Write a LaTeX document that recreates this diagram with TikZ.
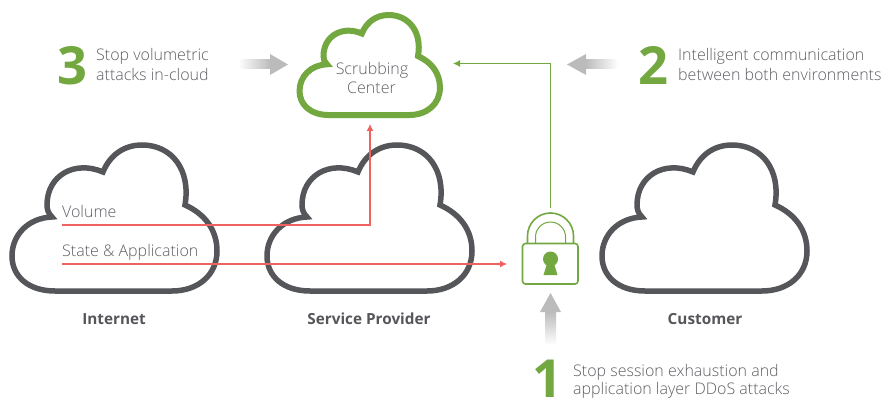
\documentclass[tikz,border=0pt]{standalone}
\usepackage{fontspec}
\setmainfont{Open Sans}
\newfontfamily\lightfont{Open Sans Light}
\definecolor{dgreen}{HTML}{72A83F}
\definecolor{dgrey}{HTML}{55565A}
\definecolor{txtgrey}{HTML}{5F6064}
\definecolor{dred}{HTML}{F0625F}
\definecolor{arrgrey}{HTML}{BBBBBB}
\tikzset{
  cloudline/.style={line width=5.5pt,draw=dgrey,line join=miter},
  scrubline/.style={line width=6pt,draw=dgreen,line join=miter},
  lab/.style={font=\lightfont\fontsize{16}{20}\selectfont,text=txtgrey,inner sep=0pt,align=left},
  title/.style={font=\bfseries\fontsize{15.3}{18}\selectfont,text=dgrey,inner sep=0pt},
  digit/.style={font=\bfseries\fontsize{52.5}{53}\selectfont,text=dgreen,inner sep=0pt},
  redflow/.style={draw=dred,line width=1.1pt,-{Latex[length=7pt,width=7pt]}},
  greenflow/.style={draw=dgreen,line width=1.3pt,-{Latex[length=7pt,width=7pt]}},
  lockline/.style={draw=dgreen,line width=1.6pt},
}
\usetikzlibrary{arrows.meta}
\newcommand{\cloudpath}{
  (52,217) .. controls (28,218) and (12,235) .. (12,256)
  .. controls (12,276) and (28,291) .. (55,291)
  -- (172,291) .. controls (198,291) and (217,275) .. (217,251)
  .. controls (217,230) and (205,214) .. (185,205)
  .. controls (191,170) and (172,145) .. (142,145)
  .. controls (124,145) and (110,155) .. (103,172)
  .. controls (75,160) and (47,175) .. (47,205)
  .. controls (47,209) and (48,213) .. (52,217) -- cycle
}
\begin{document}
\begin{tikzpicture}[x=1pt,y=-1pt]
\useasboundingbox (0,0) rectangle (882,398);
\fill[white] (0,0) rectangle (882,398);
% clouds
\draw[cloudline] \cloudpath;
\begin{scope}[xshift=255pt]\draw[cloudline] \cloudpath;\end{scope}
\begin{scope}[xshift=590pt]\draw[cloudline] \cloudpath;\end{scope}
\begin{scope}[shift={(291.3,-84.3)},scale=0.685]\draw[scrubline] \cloudpath;\end{scope}
% labels
\node[lab,anchor=base west] (vol) at (62,217) {Volume};
\node[lab,anchor=base west] (state) at (62,256) {State \& Application};
\node[lab,anchor=base,align=center] (sc1) at (372,75) {Scrubbing};
\node[lab,anchor=base] (sc2) at (371.5,94) {Center};
\node[title,anchor=base] (inet) at (114,324.5) {Internet};
\node[title,anchor=base] (sp) at (369,324.5) {Service Provider};
\node[title,anchor=base] (cust) at (705,324.5) {Customer};
\node[digit,anchor=base west] (d3) at (57,85) {3};
\node[digit,anchor=base west] (d2) at (638,85) {2};
\node[digit,anchor=base west] (d1) at (532,397.8) {1};
\node[lab,anchor=base west] (t3a) at (96,60.5) {Stop volumetric};
\node[lab,anchor=base west] (t3b) at (96,80.5) {attacks in-cloud};
\node[lab,anchor=base west] (t2a) at (678,60.5) {Intelligent communication};
\node[lab,anchor=base west] (t2b) at (678,80.5) {between both environments};
\node[lab,anchor=base west] (t1a) at (573,376) {Stop session exhaustion and};
\node[lab,anchor=base west] (t1b) at (573,394) {application layer DDoS attacks};
% connector ends
\coordinate (volstart) at (62,225);
\coordinate (volcorner) at (370,225);
\coordinate (volend) at (370,124);
\coordinate (statestart) at (62,264);
\coordinate (lockleft) at (507,264);
\coordinate (locktop) at (550.5,208);
\coordinate (greencorner) at (550.5,63.5);
\coordinate (cloudright) at (453,63.5);
\draw[redflow] (volstart) -- (volcorner) -- (volend);
\draw[redflow] (statestart) -- (lockleft);
\draw[greenflow] (locktop) -- (greencorner) -- (cloudright);
% lock
\draw[lockline,rounded corners=3pt] (522.5,243.5) rectangle (578,284);
\draw[lockline] (527.5,243.5) -- (527.5,236) arc[start angle=180,end angle=360,radius=23] -- (573.5,243.5);
\draw[lockline,line width=1pt] (535.5,243.5) -- (535.5,237) arc[start angle=180,end angle=360,radius=15] -- (565.5,243.5);
\fill[dgreen] (550.5,259) circle (7.5pt);
\fill[dgreen] (547.5,262) -- (553.5,262) -- (557.5,275) -- (543.5,275) -- cycle;
% grey arrows
\shade[left color=white,right color=arrgrey,draw=none] (238,60) rectangle (270.5,69);
\fill[arrgrey] (270,54) -- (288,64.5) -- (270,75) -- cycle;
\shade[right color=white,left color=arrgrey,draw=none] (585.5,60) rectangle (618,69);
\fill[arrgrey] (586,54) -- (567,64.5) -- (586,75) -- cycle;
\shade[top color=arrgrey,bottom color=white,draw=none] (545.5,311.5) rectangle (556,345);
\fill[arrgrey] (540,312) -- (550.5,293) -- (561,312) -- cycle;
\end{tikzpicture}
\end{document}
